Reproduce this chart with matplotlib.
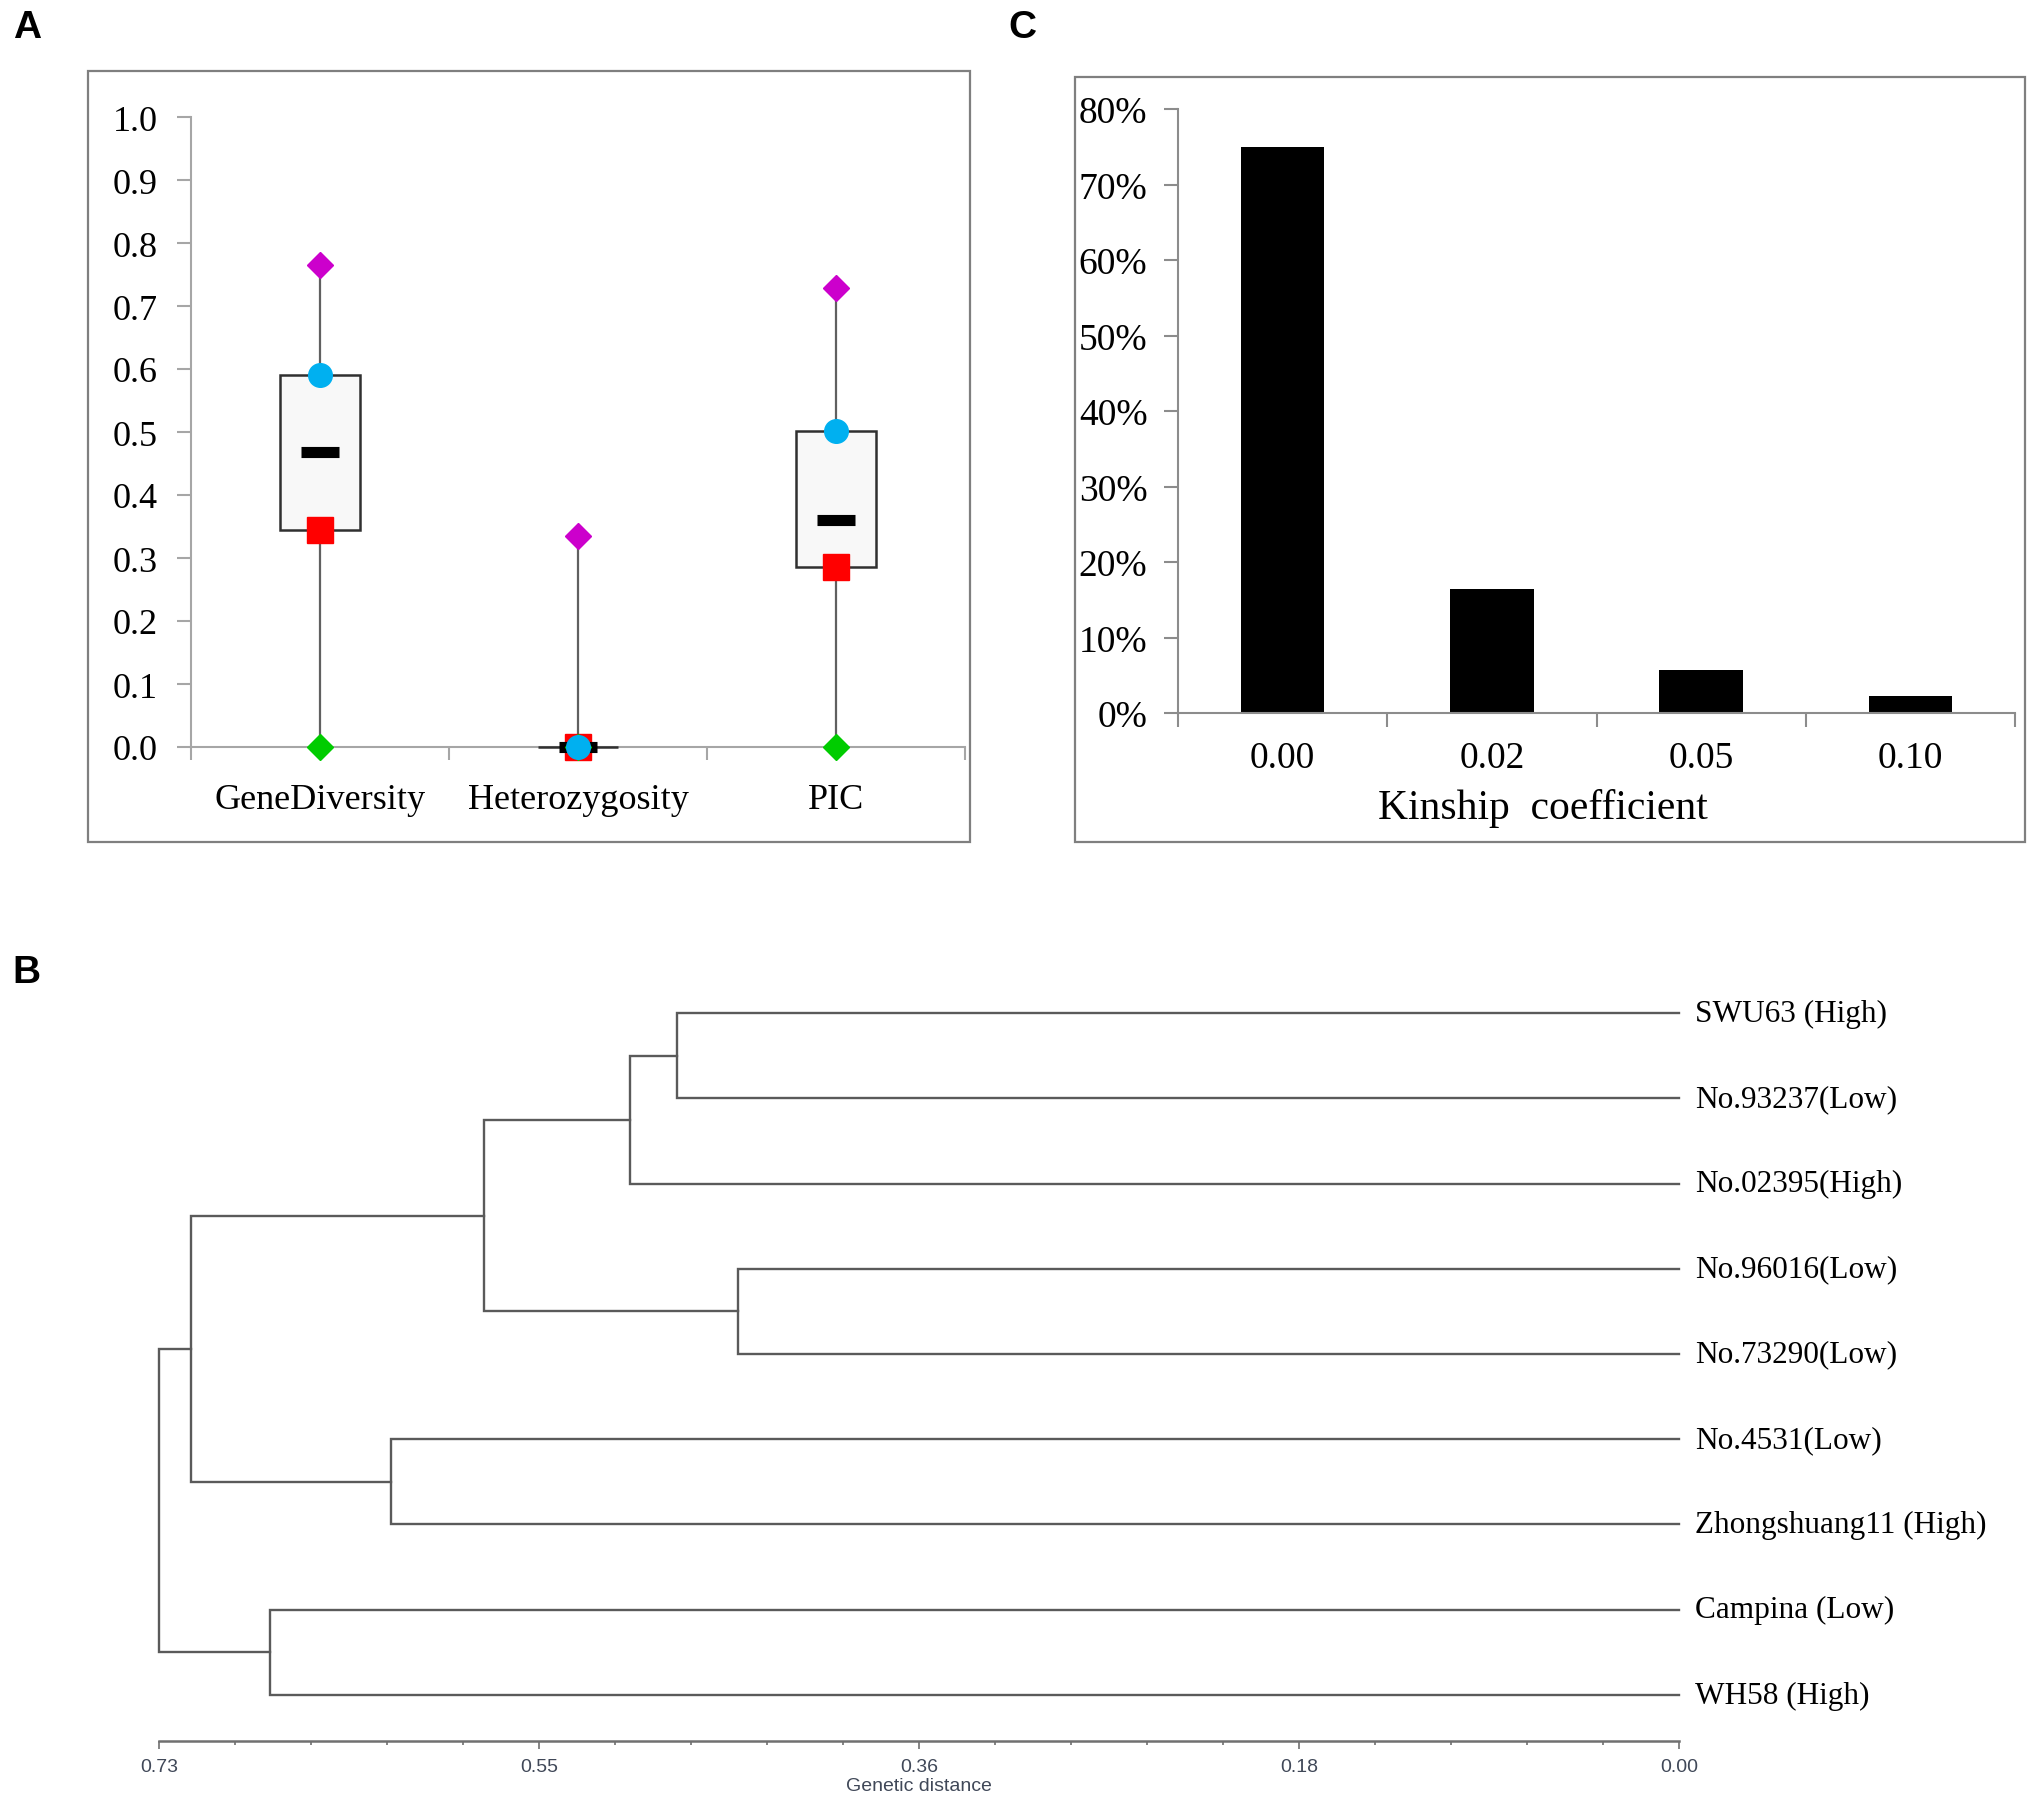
import matplotlib
matplotlib.use("Agg")
import matplotlib.pyplot as plt
import numpy as np
from matplotlib.patches import Rectangle
from matplotlib.ticker import PercentFormatter, FixedLocator

plt.rcParams['font.family'] = ['Liberation Serif', 'DejaVu Serif']

# ---- panel A: summary of diversity statistics
cat_a = ['GeneDiversity', 'Heterozygosity', 'PIC']
min_a = [0.0, 0.0, 0.0]
q1_a = [0.345, 0.0, 0.285]
med_a = [0.468, 0.0, 0.36]
q3_a = [0.59, 0.0, 0.502]
max_a = [0.765, 0.335, 0.728]

# ---- panel C: kinship coefficient distribution
cat_c = ['0.00', '0.02', '0.05', '0.10']
frac_c = [0.75, 0.164, 0.057, 0.023]

# ---- panel B: UPGMA-like dendrogram
leaves = ['SWU63 (High)', 'No.93237(Low)', 'No.02395(High)', 'No.96016(Low)',
          'No.73290(Low)', 'No.4531(Low)', 'Zhongshuang11 (High)',
          'Campina (Low)', 'WH58 (High)']
# (child a, child b, height); new node ids start at len(leaves)
merges = [(0, 1, 0.4793),
          (9, 2, 0.5016),
          (3, 4, 0.4502),
          (10, 11, 0.5715),
          (5, 6, 0.6160),
          (12, 13, 0.7118),
          (7, 8, 0.6741),
          (14, 15, 0.727)]
dist_labels = ['0.73', '0.55', '0.36', '0.18', '0.00']

W, H = 2028, 1799
fig = plt.figure(figsize=(W / 100, H / 100), dpi=100)


def frac(x0, y0, x1, y1):
    # pixel box (top-left origin) -> figure fraction [l, b, w, h]
    return [x0 / W, 1 - y1 / H, (x1 - x0) / W, (y1 - y0) / H]


# frames round A and C
for box in [(88, 72, 970, 843), (1075, 78, 2025, 843)]:
    l, b, w, h = frac(*box)
    fig.add_artist(Rectangle((l, b), w, h, transform=fig.transFigure,
                             fill=False, edgecolor='#7f7f7f', lw=1.6))

# panel letters
for lab, (px, py) in zip('ABC', [(27, 28), (26, 973), (1022, 28)]):
    fig.text(px / W, 1 - py / H, lab, family='Liberation Sans', weight='bold',
             fontsize=28, ha='center', va='center')

# ================= A
axA = fig.add_axes(frac(191, 118, 965, 748))
xa = np.arange(len(cat_a))
axA.vlines(xa, min_a, max_a, color='#606060', lw=1.6, zorder=1)
axA.bar(xa, np.array(q3_a) - np.array(q1_a), bottom=q1_a, width=0.31,
        color='#f8f8f8', edgecolor='#303030', lw=1.8, zorder=2, clip_on=False)
axA.plot(xa, q1_a, 's', color='#ff0000', ms=19, zorder=3, ls='none', clip_on=False)
axA.hlines(med_a, xa - 0.075, xa + 0.075, color='black', lw=8, zorder=4, clip_on=False)
axA.plot(xa, min_a, 'D', color='#00cc00', ms=13, zorder=5, ls='none', clip_on=False)
axA.plot(xa, max_a, 'D', color='#cc00cc', ms=13, zorder=5, ls='none', clip_on=False)
axA.plot(xa, q3_a, 'o', color='#00b0f0', ms=17, zorder=6, ls='none', clip_on=False)

axA.set_xlim(-0.5, 2.5)
axA.set_ylim(0, 1.0)
axA.set_yticks(np.arange(0, 1.01, 0.1))
axA.set_yticklabels(['%.1f' % v for v in np.arange(0, 1.01, 0.1)], fontsize=26)
axA.set_xticks(xa)
axA.set_xticklabels(cat_a, fontsize=26)
axA.xaxis.set_minor_locator(FixedLocator([-0.5, 0.5, 1.5, 2.5]))
axA.tick_params(axis='x', which='major', length=0, pad=26)
axA.tick_params(axis='x', which='minor', length=9, color='#a6a6a6', width=1.5)
axA.tick_params(axis='y', length=10, color='#a6a6a6', width=1.5, pad=14)
for s in ['top', 'right']:
    axA.spines[s].set_visible(False)
for s in ['left', 'bottom']:
    axA.spines[s].set_color('#a6a6a6')
    axA.spines[s].set_linewidth(1.5)
    axA.spines[s].set_zorder(0.5)
axA.set_facecolor('none')

# ================= C
axC = fig.add_axes(frac(1178, 110, 2015, 714))
xc = np.arange(len(cat_c))
axC.bar(xc, frac_c, width=0.4, color='black')
axC.set_xlim(-0.5, 3.5)
axC.set_ylim(0, 0.8)
axC.set_yticks(np.arange(0, 0.81, 0.1))
axC.yaxis.set_major_formatter(PercentFormatter(xmax=1, decimals=0))
axC.set_xticks(xc)
axC.set_xticklabels(cat_c)
axC.xaxis.set_minor_locator(FixedLocator([-0.5, 0.5, 1.5, 2.5, 3.5]))
axC.tick_params(axis='x', which='major', length=0, pad=20, labelsize=27)
axC.tick_params(axis='x', which='minor', length=10, color='#8c8c8c', width=1.5)
axC.tick_params(axis='y', length=10, color='#8c8c8c', width=1.5, labelsize=27, pad=12)
axC.set_xlabel('Kinship  coefficient', fontsize=30)
axC.xaxis.set_label_coords(0.436, -0.125)
for s in ['top', 'right']:
    axC.spines[s].set_visible(False)
for s in ['left', 'bottom']:
    axC.spines[s].set_color('#8c8c8c')
    axC.spines[s].set_linewidth(1.5)

# ================= B
axB = fig.add_axes(frac(159, 974, 1679, 1742))
pos = {i: (0.0, float(i)) for i in range(len(leaves))}
lc = '#5a5a5a'
for k, (a, b, h) in enumerate(merges):
    xa_, ya_ = pos[a]
    xb_, yb_ = pos[b]
    axB.plot([xa_, h, h, xb_], [ya_, ya_, yb_, yb_], color=lc, lw=1.7,
             clip_on=False, solid_joinstyle='miter')
    pos[len(leaves) + k] = (h, (ya_ + yb_) / 2)

for i, name in enumerate(leaves):
    axB.annotate(name, (0, i), xytext=(16, 0), textcoords='offset pixels',
                 ha='left', va='center', fontsize=22.5, annotation_clip=False)

root = merges[-1][2]
axB.set_xlim(root, 0)
axB.set_ylim(len(leaves) - 1 + 0.54, -0.47)
axB.set_xticks(np.linspace(root, 0, len(dist_labels)))
axB.set_xticklabels(dist_labels)
axB.set_xticks(np.linspace(root, 0, 21), minor=True)
axB.set_yticks([])
axB.tick_params(axis='x', which='major', length=6, width=1.2, color='#707070',
                labelsize=14, labelcolor='#404858', pad=6)
axB.tick_params(axis='x', which='minor', length=3, width=1.2, color='#707070')
for lbl in axB.get_xticklabels():
    lbl.set_family('Liberation Sans')
axB.set_xlabel('Genetic distance', fontsize=14, color='#404858',
               family='Liberation Sans', labelpad=2)
for s in ['top', 'right', 'left']:
    axB.spines[s].set_visible(False)
axB.spines['bottom'].set_color('#707070')
axB.spines['bottom'].set_linewidth(1.8)
axB.set_facecolor('none')

fig.savefig('out.png', dpi=100)
